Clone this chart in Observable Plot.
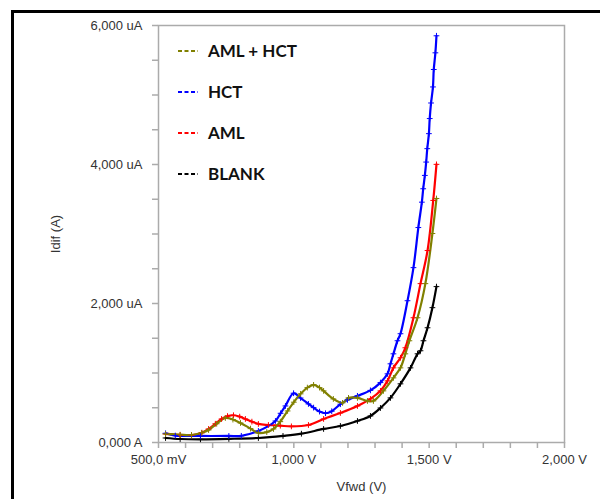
<!DOCTYPE html>
<html>
<head>
<meta charset="utf-8">
<script src="https://cdn.jsdelivr.net/npm/d3@7"></script>
<script src="https://cdn.jsdelivr.net/npm/@observablehq/plot@0.6"></script>
<style>
  html, body { margin: 0; padding: 0; background: #fff; overflow: hidden; width: 600px; height: 499px; }
  #wrap { position: relative; width: 600px; height: 499px; overflow: hidden; }
  #border { position: absolute; left: 11px; top: 10px; width: 700px; height: 700px; border: 3px solid #000; box-sizing: border-box; }
  #legend { position: absolute; left: 178px; top: 30px; font-family: Lato, "Open Sans", sans-serif; font-weight: 700; font-size: 17px; color: #111; }
  #legend .row { display: flex; align-items: center; height: 41px; }
  #legend svg { margin-right: 10px; }
  svg text { font-family: "Liberation Sans", Arial, sans-serif; }
</style>
</head>
<body>
<div id="wrap">
  <div id="border"></div>
  <div id="chart"></div>
  <div id="legend"></div>
</div>
<script>
// Series names and colours
const seriesNames = ["BLANK", "AML", "HCT", "AML + HCT"];
const seriesColors = ["#000000", "#ff0000", "#0000ff", "#808000"];
const legendOrder = ["AML + HCT", "HCT", "AML", "BLANK"];

// Potential (mV) and current (uA) estimates for each series
const blankV = [526, 580, 655, 760, 869, 960, 1028, 1110, 1172, 1235, 1283, 1320, 1357, 1394, 1431, 1457, 1468, 1479, 1494, 1512, 1527];
const blankI = [65, 50, 46, 52, 65, 95, 127, 195, 238, 310, 382, 497, 642, 844, 1074, 1276, 1320, 1464, 1651, 1940, 2243];

const amlV = [526, 580, 622, 660, 685, 710, 733, 755, 777, 800, 821, 845, 869, 906, 950, 991, 1054, 1110, 1172, 1235, 1283, 1320, 1346, 1368, 1394, 1412, 1442, 1468, 1494, 1515, 1527];
const amlI = [123, 108, 104, 140, 195, 270, 339, 380, 392, 372, 339, 300, 267, 252, 242, 232, 252, 339, 425, 526, 627, 743, 887, 1074, 1219, 1363, 1795, 2286, 2762, 3483, 4002];

const hctV = [526, 562, 655, 760, 806, 869, 932, 951, 969, 999, 1025, 1054, 1073, 1095, 1117, 1140, 1172, 1198, 1235, 1283, 1320, 1346, 1357, 1368, 1383, 1394, 1420, 1442, 1460, 1473, 1478, 1484, 1489, 1493, 1499, 1502, 1507, 1514, 1517, 1523, 1527];
const hctI = [133, 100, 94, 94, 96, 166, 310, 420, 526, 709, 640, 555, 502, 445, 421, 450, 551, 613, 671, 750, 862, 988, 1132, 1276, 1464, 1565, 2040, 2516, 3093, 3458, 3651, 3843, 4035, 4228, 4444, 4661, 4885, 5116, 5367, 5607, 5852];

const mixV = [526, 580, 622, 660, 685, 715, 747, 775, 803, 840, 869, 900, 925, 950, 977, 1000, 1025, 1050, 1073, 1095, 1110, 1146, 1180, 1202, 1235, 1272, 1294, 1331, 1368, 1394, 1412, 1427, 1457, 1486, 1512, 1527];
const mixI = [123, 112, 108, 140, 180, 270, 353, 330, 281, 200, 137, 150, 195, 300, 454, 580, 700, 790, 829, 790, 743, 627, 570, 642, 642, 598, 598, 743, 930, 1074, 1276, 1464, 1795, 2286, 3007, 3511];

// Axis ticks
const xMinorTicks = d3.range(500, 2001, 100);
const xMajorTicks = [500, 1000, 1500, 2000];
const xTickLabels = ["500,0 mV", "1,000 V", "1,500 V", "2,000 V"];
const yMinorTicks = d3.range(0, 6001, 500);
const yMajorTicks = [0, 2000, 4000, 6000];
const yTickLabels = ["0,000 A", "2,000 uA", "4,000 uA", "6,000 uA"];

const seriesData = [
  {name: "BLANK", v: blankV, i: blankI},
  {name: "AML", v: amlV, i: amlI},
  {name: "HCT", v: hctV, i: hctI},
  {name: "AML + HCT", v: mixV, i: mixI}
];
const rows = seriesData.flatMap(s => s.v.map((v, k) => ({series: s.name, v, i: s.i[k]})));
const colorOf = Object.fromEntries(seriesNames.map((n, k) => [n, seriesColors[k]]));

const frameColor = "#ababab";
const textColor = "#333";

const chart = Plot.plot({
  width: 600,
  height: 499,
  marginLeft: 158,
  marginRight: 36,
  marginTop: 25,
  marginBottom: 57,
  style: {fontSize: "13px", fontFamily: "'Liberation Sans', Arial, sans-serif", background: "transparent", overflow: "visible"},
  x: {domain: [500, 2000], label: null},
  y: {domain: [0, 6000], label: null},
  color: {domain: seriesNames, range: seriesColors},
  marks: [
    Plot.axisX({ticks: xMinorTicks, tickSize: 6, tickFormat: () => "", stroke: frameColor, strokeWidth: 1.5}),
    Plot.axisX({ticks: xMajorTicks, tickSize: 0, tickPadding: 12, fill: textColor,
      tickFormat: d => xTickLabels[xMajorTicks.indexOf(d)],
      label: "Vfwd (V)", labelAnchor: "center", labelOffset: 48, labelArrow: "none"}),
    Plot.axisY({ticks: yMinorTicks, tickSize: 6, tickFormat: () => "", stroke: frameColor, strokeWidth: 1.5}),
    Plot.axisY({ticks: yMajorTicks, tickSize: 0, tickPadding: 16, fill: textColor,
      tickFormat: d => yTickLabels[yMajorTicks.indexOf(d)],
      label: "Idif (A)", labelAnchor: "center", labelOffset: 108, labelArrow: "none"}),
    Plot.frame({stroke: frameColor, strokeWidth: 1.5}),
    Plot.line(rows, {x: "v", y: "i", z: "series", stroke: "series", strokeWidth: 2.2, curve: "catmull-rom"}),
    Plot.dot(rows, {x: "v", y: "i", stroke: "series", symbol: "plus", r: 2, strokeWidth: 1})
  ]
});
document.getElementById("chart").appendChild(chart);

// Legend (inside the plot area, top left)
const legend = document.getElementById("legend");
for (const name of legendOrder) {
  const row = document.createElement("div");
  row.className = "row";
  row.innerHTML = `<svg width="20" height="6"><line x1="0" y1="3" x2="20" y2="3" stroke="${colorOf[name]}" stroke-width="2" stroke-dasharray="4,2.5"/></svg><span>${name}</span>`;
  legend.appendChild(row);
}
</script>
</body>
</html>
